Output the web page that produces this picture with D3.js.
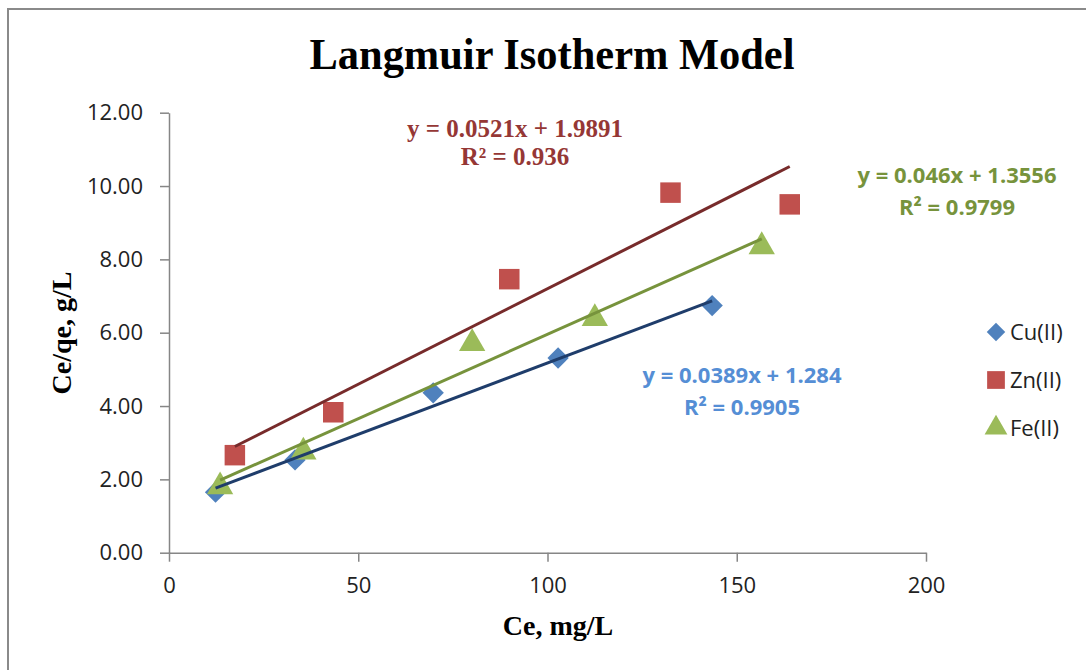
<!DOCTYPE html>
<html>
    <head>
        <meta charset="utf-8">
        <title>Langmuir Isotherm Model</title>
        <script src="https://cdnjs.cloudflare.com/ajax/libs/d3/7.8.5/d3.min.js"></script>
        <style>
            body { margin: 0; background: #fff; }
        </style>
    </head>
    <body>
        <div id="container"></div>

        <script>
            // Data
            var cuX = [12.3, 33.3, 69.8, 102.8, 143.5];
            var cuY = [1.65, 2.53, 4.36, 5.31, 6.74];
            var znX = [17.4, 43.4, 89.9, 132.5, 164.0];
            var znY = [2.66, 3.83, 7.46, 9.82, 9.50];
            var feX = [13.5, 35.5, 80.1, 112.5, 156.6];
            var feY = [1.80, 2.75, 5.71, 6.39, 8.35];

            var seriesNames = ["Cu(II)", "Zn(II)", "Fe(II)"];
            var slopes = [0.0389, 0.0521, 0.046];
            var intercepts = [1.284, 1.9891, 1.3556];
            var eqLabels = ["y = 0.0389x + 1.284", "y = 0.0521x + 1.9891", "y = 0.046x + 1.3556"];
            var r2Labels = ["R² = 0.9905", "R² = 0.936", "R² = 0.9799"];

            var xTicks = [0, 50, 100, 150, 200];
            var yTicks = [0, 2, 4, 6, 8, 10, 12];

            // Styles
            var markerFill = ["#4F81BD", "#C0504D", "#9BBB59"];
            var lineColor = ["#1F3D6B", "#772B2B", "#77933C"];
            var eqColor = ["#558ED5", "#953735", "#77933C"];
            var shapes = [d3.symbolDiamond2, d3.symbolSquare, d3.symbolTriangle];

            var w = 1086, h = 670;
            var plotLeft = 169, plotRight = 926, plotTop = 112.7, plotBottom = 552.7;

            var svg = d3.select("#container").append("svg")
                .attr("width", w)
                .attr("height", h);

            // chart frame
            svg.append("rect")
                .attr("x", 8).attr("y", 9)
                .attr("width", w).attr("height", h)
                .attr("fill", "none")
                .attr("stroke", "#8a8a8a")
                .attr("stroke-width", 2);

            var x = d3.scaleLinear().domain([0, 200]).range([plotLeft, plotRight]);
            var y = d3.scaleLinear().domain([0, 12]).range([plotBottom, plotTop]);

            var axisColor = "#868686";
            var tickFont = "'Open Sans', sans-serif";

            var gx = svg.append("g")
                .attr("transform", "translate(0," + plotBottom + ")")
                .call(d3.axisBottom(x).tickValues(xTicks).tickSize(9).tickSizeOuter(0).tickPadding(16));

            var gy = svg.append("g")
                .attr("transform", "translate(" + plotLeft + ",0)")
                .call(d3.axisLeft(y).tickValues(yTicks).tickFormat(d3.format(".2f")).tickSize(9).tickSizeOuter(0).tickPadding(17));

            [gx, gy].forEach(function(g) {
                g.select(".domain").attr("stroke", axisColor).attr("stroke-width", 1.5);
                g.selectAll(".tick line").attr("stroke", axisColor).attr("stroke-width", 1.5);
                g.selectAll(".tick text")
                    .attr("fill", "#222")
                    .style("font-family", tickFont)
                    .style("font-size", "22px");
            });

            // Title and axis titles
            svg.append("text")
                .attr("x", 552).attr("y", 69)
                .attr("text-anchor", "middle")
                .attr("textLength", 485)
                .attr("lengthAdjust", "spacingAndGlyphs")
                .style("font-family", "'Liberation Serif', 'Times New Roman', serif")
                .style("font-weight", "bold")
                .style("font-size", "44px")
                .text("Langmuir Isotherm Model");

            svg.append("text")
                .attr("x", 558).attr("y", 635)
                .attr("text-anchor", "middle")
                .style("font-family", "'Liberation Serif', 'Times New Roman', serif")
                .style("font-weight", "bold")
                .style("font-size", "28px")
                .text("Ce, mg/L");

            svg.append("text")
                .attr("transform", "translate(71,333) rotate(-90)")
                .attr("text-anchor", "middle")
                .style("font-family", "'Liberation Serif', 'Times New Roman', serif")
                .style("font-weight", "bold")
                .style("font-size", "28px")
                .text("Ce/qe, g/L");

            var series = [
                { xs: cuX, ys: cuY },
                { xs: znX, ys: znY },
                { xs: feX, ys: feY }
            ];

            var symSize = [290, 420, 300];

            // Markers
            series.forEach(function(s, k) {
                svg.append("g").selectAll("path")
                    .data(s.xs.map(function(v, i) { return [v, s.ys[i]]; }))
                    .enter()
                    .append("path")
                    .attr("d", d3.symbol().type(shapes[k]).size(symSize[k]))
                    .attr("transform", function(d) {
                        return "translate(" + x(d[0]) + "," + y(d[1]) + ")";
                    })
                    .attr("fill", markerFill[k]);
            });

            // Trend lines on top of markers
            series.forEach(function(s, k) {
                var x0 = d3.min(s.xs), x1 = d3.max(s.xs);
                svg.append("line")
                    .attr("x1", x(x0)).attr("y1", y(slopes[k] * x0 + intercepts[k]))
                    .attr("x2", x(x1)).attr("y2", y(slopes[k] * x1 + intercepts[k]))
                    .attr("stroke", lineColor[k])
                    .attr("stroke-width", 3);
            });

            // Equation labels
            var eqPos = [[742, 383, 415], [515, 137, 165], [957, 183, 215]];
            var eqFonts = [
                "'Open Sans', sans-serif",
                "'Liberation Serif', 'Times New Roman', serif",
                "'Open Sans', sans-serif"
            ];
            var eqSizes = ["22px", "25px", "22px"];
            eqLabels.forEach(function(t, k) {
                var g = svg.append("g")
                    .attr("fill", eqColor[k])
                    .style("font-family", eqFonts[k])
                    .style("font-weight", "bold")
                    .style("font-size", eqSizes[k])
                    .attr("text-anchor", "middle");
                g.append("text").attr("x", eqPos[k][0]).attr("y", eqPos[k][1]).text(t);
                g.append("text").attr("x", eqPos[k][0]).attr("y", eqPos[k][2]).text(r2Labels[k]);
            });

            // Legend
            var legY = [332, 380, 428];
            var leg = svg.append("g").selectAll("g")
                .data(seriesNames)
                .enter()
                .append("g")
                .attr("transform", function(d, i) { return "translate(996," + legY[i] + ")"; });

            leg.append("path")
                .attr("d", function(d, i) { return d3.symbol().type(shapes[i]).size(symSize[i] * 0.75)(); })
                .attr("fill", function(d, i) { return markerFill[i]; });

            leg.append("text")
                .attr("x", 14)
                .attr("dy", "0.36em")
                .attr("fill", "#222")
                .style("font-family", tickFont)
                .style("font-size", "22px")
                .text(function(d) { return d; });
        </script>
    </body>
</html>
